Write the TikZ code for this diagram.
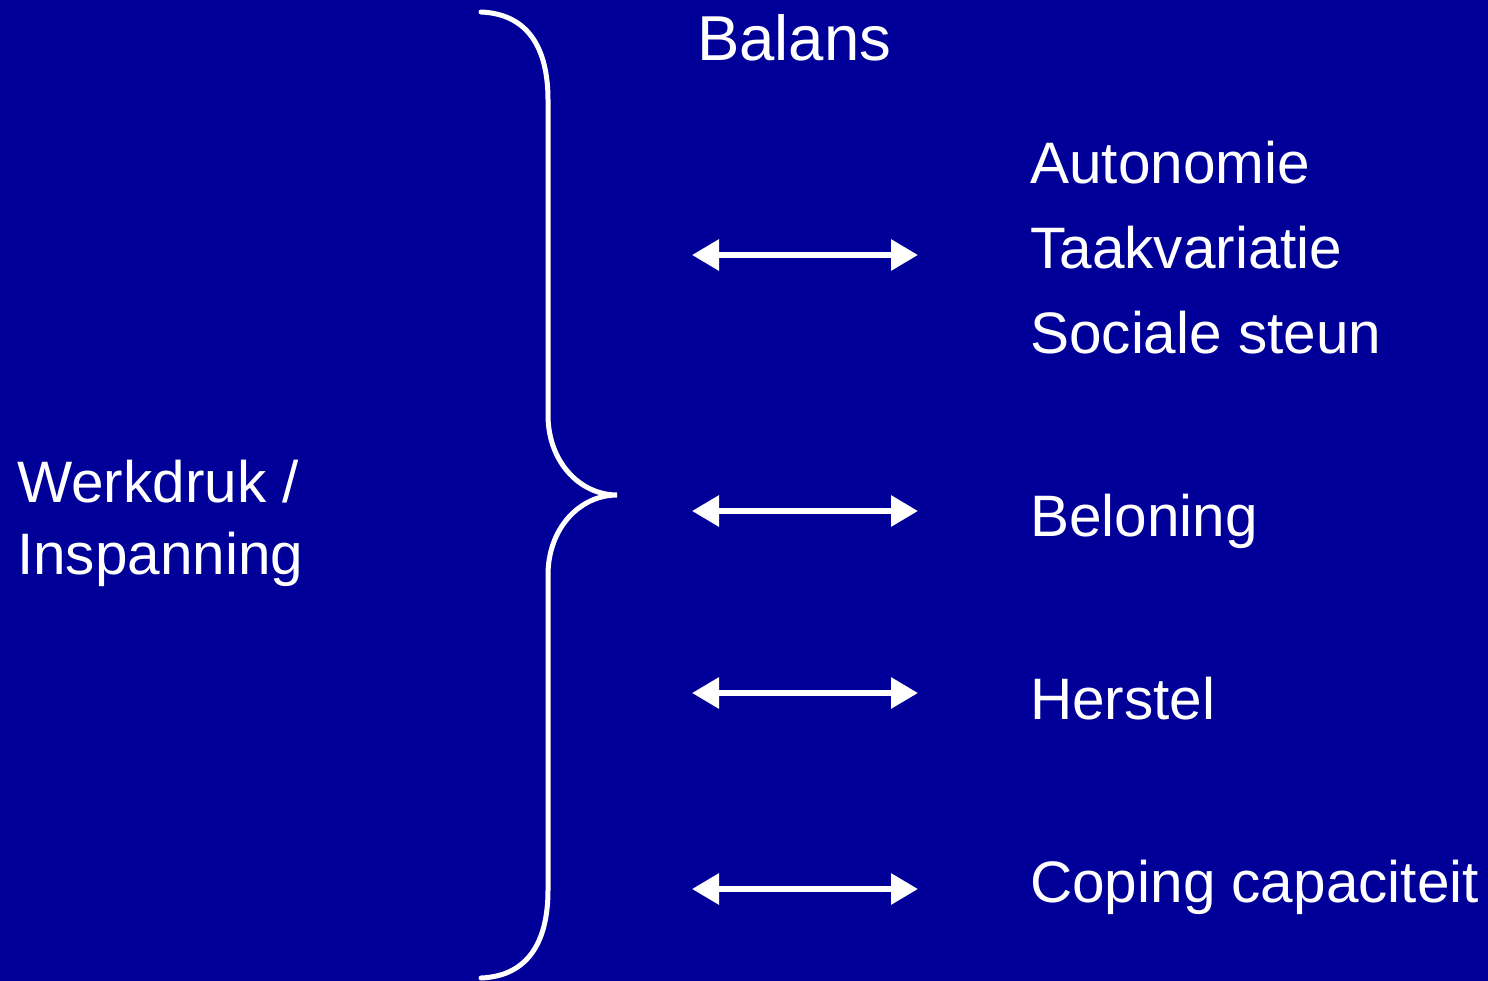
\documentclass[tikz,border=0pt]{standalone}
\usepackage{fontspec}
\setmainfont{Liberation Sans}
\usetikzlibrary{arrows.meta}
\definecolor{bgblue}{RGB}{0,0,153}
\begin{document}
\begin{tikzpicture}[x=1pt,y=-1pt,
  lbl/.style={anchor=base west,inner sep=0pt,text=white,font=\fontsize{58.5}{70}\selectfont},
  dbl/.style={draw=white,line width=6pt,{Triangle[length=27pt,width=30pt]}-{Triangle[length=27pt,width=30pt]}},
  brace/.style={draw=white,line width=5pt,line cap=round}]
\fill[bgblue] (0,0) rectangle (1488,981);
\useasboundingbox (0,0) rectangle (1488,981);
% brace
\draw[brace] (481,12) .. controls (528,14) and (548,48) .. (548,100)
  -- (548,415) .. controls (548,462) and (580,495) .. (617,495)
  .. controls (580,495) and (548,528) .. (548,575)
  -- (548,890) .. controls (548,942) and (528,976) .. (481,978);
% labels
\node[lbl,font=\fontsize{63.5}{74}\selectfont] (balans) at (697,61) {Balans};
\node[lbl] (auto) at (1030,184) {Autonomie};
\node[lbl] (taak) at (1030,269) {Taakvariatie};
\node[lbl] (soc) at (1030,354) {Sociale steun};
\node[lbl] (belon) at (1030,536) {Beloning};
\node[lbl] (herst) at (1030,719) {Herstel};
\node[lbl] (coping) at (1030,902) {Coping capaciteit};
\node[lbl] (werk) at (17,502) {Werkdruk /};
\node[lbl] (insp) at (17,574) {Inspanning};
% arrows
\coordinate (a1l) at (692,255); \coordinate (a1r) at (918,255);
\coordinate (a2l) at (692,511); \coordinate (a2r) at (918,511);
\coordinate (a3l) at (692,693); \coordinate (a3r) at (918,693);
\coordinate (a4l) at (692,889); \coordinate (a4r) at (918,889);
\draw[dbl] (a1l) -- (a1r);
\draw[dbl] (a2l) -- (a2r);
\draw[dbl] (a3l) -- (a3r);
\draw[dbl] (a4l) -- (a4r);
\end{tikzpicture}
\end{document}
